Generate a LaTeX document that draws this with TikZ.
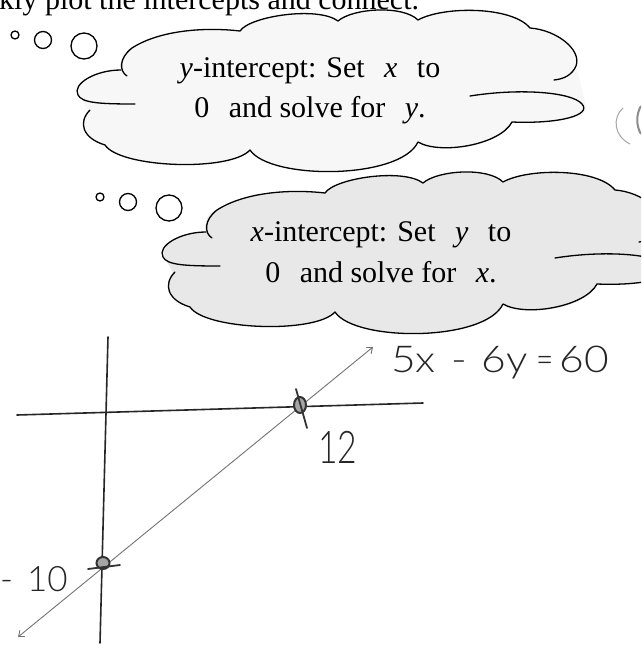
\documentclass[tikz,border=0pt]{standalone}
\usepackage{fontspec}
\setmainfont{Liberation Serif}
\newfontfamily\hand{Lato}[UprightFont={* Light}]
\usetikzlibrary{arrows.meta}
\tikzset{
  cloudline/.style={line width=1.3pt, line cap=round, line join=round, black},
  axisline/.style={line width=1.6pt, black!85, line cap=round},
  graphline/.style={line width=0.9pt, black!55},
  penmark/.style={line width=1.8pt, black!80, line cap=round},
  penblob/.style={line width=2pt, draw=black!80, fill=black!35},
  cloudtext/.style={font=\fontsize{30}{36}\selectfont, anchor=base, inner sep=0pt},
  handtext/.style={font=\hand\fontsize{37}{37}\selectfont, anchor=base west, inner sep=0pt, text=black!85},
  thoughtcloud/.pic={
    \fill[pic actions] (121,70) .. controls (120,58) and (122,52) .. (132,48)
      .. controls (160,30) and (205,27) .. (240,31)
      .. controls (250,16) and (318,6) .. (338,21)
      .. controls (353,8) and (403,5) .. (418,20)
      .. controls (443,6) and (512,6) .. (530,28)
      .. controls (557,30) and (582,50) .. (576,66) -- (586,106)
      .. controls (590,118) and (560,124) .. (512,122)
      .. controls (500,148) and (440,155) .. (418,142)
      .. controls (400,180) and (270,180) .. (250,150)
      .. controls (230,172) and (120,168) .. (105,145)
      .. controls (82,138) and (78,122) .. (88,110) -- (80,97)
      .. controls (72,84) and (95,70) .. (121,70) -- cycle;
    \draw[cloudline] (127,76) .. controls (119,71) and (119,58) .. (132,48)
      .. controls (160,30) and (205,27) .. (240,31)
      .. controls (250,16) and (318,6) .. (338,21)
      .. controls (353,8) and (403,5) .. (418,20)
      .. controls (443,6) and (512,6) .. (530,28)
      .. controls (557,30) and (582,50) .. (576,66)
      .. controls (572,75) and (564,79) .. (554,80);
    \draw[cloudline] (121,70) .. controls (95,70) and (72,84) .. (78,95)
      .. controls (82,103) and (100,104) .. (135,104);
    \draw[cloudline] (90,110) .. controls (78,122) and (82,138) .. (105,145)
      .. controls (120,168) and (230,172) .. (250,150)
      .. controls (270,180) and (400,180) .. (418,142)
      .. controls (440,155) and (500,145) .. (512,122)
      .. controls (560,124) and (592,115) .. (582,104)
      .. controls (572,92) and (520,88) .. (470,96);
    \draw[cloudline] (15,35) circle[radius=4] (43,40) circle[radius=8.5] (84,46) circle[radius=13];
  }
}
\begin{document}
\begin{tikzpicture}[x={(1pt,0)}, y={(0,-1pt)}]
\useasboundingbox (0,0) rectangle (641,651);
\clip (0,0) rectangle (641,651);
\fill[white] (0,0) rectangle (641,651);

% top line of text (cut by the page edge, as in the scan)
\node[cloudtext, anchor=base west] (toptext) at (-1,9) {kly plot the intercepts and connect.};

% thought clouds
\pic[fill=black!3] (c1) at (0,0) {thoughtcloud};
\pic[fill=black!9] (c2) at (85,162) {thoughtcloud};

% faint fragment at right edge
\draw[black!35, line width=1pt] (623,108) .. controls (612,118) and (614,136) .. (630,144);
\draw[black!45, line width=2pt] (641,106) .. controls (636,114) and (636,126) .. (641,134);

\node[cloudtext] (t1a) at (310,77) {\textit{y}-intercept: Set\hspace{.65em}\textit{x}\hspace{.65em}to};
\node[cloudtext] (t1b) at (310,117) {0\hspace{.65em}and solve for\hspace{.65em}\textit{y}.};
\node[cloudtext] (t2a) at (381,241) {\textit{x}-intercept: Set\hspace{.65em}\textit{y}\hspace{.65em}to};
\node[cloudtext] (t2b) at (381,282) {0\hspace{.65em}and solve for\hspace{.65em}\textit{x}.};

% axes
\coordinate (vt) at (108,337);
\coordinate (vb) at (100,643);
\coordinate (hl) at (17,415);
\coordinate (hr) at (423,403);
\draw[axisline] (vt) -- (vb);
\draw[axisline] (hl) -- (hr);

% graph line
\coordinate (ll) at (18,637);
\coordinate (ur) at (373,347);
\draw[graphline, {Straight Barb[length=5pt,width=8pt]}-{Straight Barb[length=5pt,width=8pt]}] (ll) -- (ur);

% intercept marks
\coordinate (xi) at (300,405);
\coordinate (yi) at (103,563);
\draw[penblob] (xi) circle[x radius=6, y radius=8];
\draw[penmark] (296,389) -- (307,428);
\draw[penblob] (yi) circle[x radius=6.5, y radius=6];
\draw[penmark] (88,569) -- (120,565);

% handwritten labels
\node[handtext] (eq) at (391,372) {\scalebox{1.15}[1]{5x\hspace{14pt}-\hspace{12pt}6y\hspace{8pt}\scalebox{0.7}[1]{=}\hspace{5pt}60}};
\node[handtext, font=\hand\fontsize{45}{45}\selectfont] (twelve) at (318,463) {\scalebox{0.75}[1]{12}};
\node[handtext, font=\hand\fontsize{35}{35}\selectfont] (mten) at (0,591) {-\hspace{14pt}10};
\end{tikzpicture}
\end{document}
